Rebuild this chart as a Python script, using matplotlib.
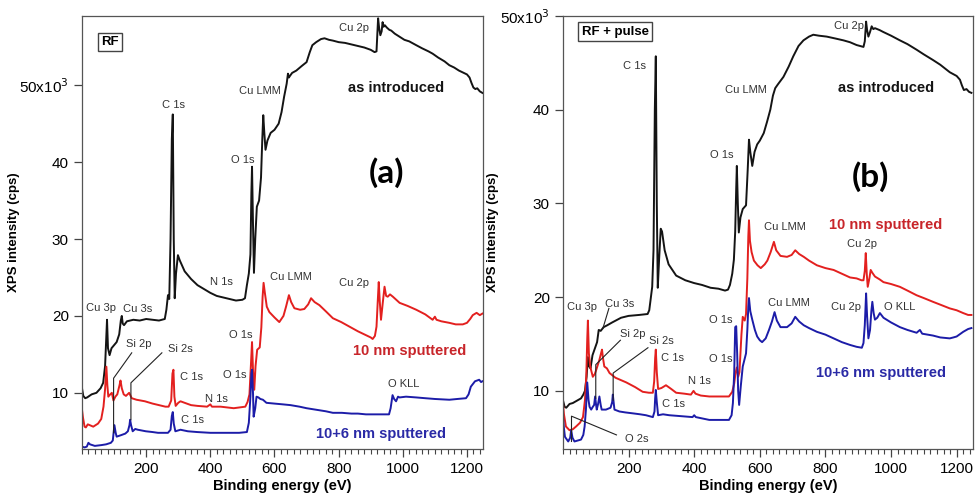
import matplotlib
matplotlib.use("Agg")
import matplotlib.pyplot as plt
from matplotlib.ticker import MultipleLocator, FuncFormatter

plt.rcParams['font.family'] = ['Liberation Sans', 'DejaVu Sans']

# ---- panel (a): RF ----  (energies in eV, intensities in 10^3 cps)
a_black_E = [0, 4, 10, 16, 30, 45, 58, 66, 72, 76, 78, 81, 86, 92, 100, 108, 116, 121, 124, 127, 131, 140, 160, 180,
             200, 220, 240, 258, 263, 268, 272, 276, 280, 283, 286, 289, 293, 299, 305, 320, 340, 360, 380, 400, 420,
             440, 460, 480, 500, 508, 514, 520, 525, 528, 530, 533, 536, 540, 545, 552, 558, 562, 565, 568, 572, 578,
             588, 600, 613, 622, 630, 638, 642, 645, 648, 655, 668, 685, 700, 710, 718, 730, 745, 756, 770, 782, 800,
             820, 840, 860, 880, 900, 912, 918, 921, 923, 926, 930, 934, 937, 940, 944, 950, 958, 964, 975, 990, 1005,
             1020, 1042, 1060, 1080, 1093, 1110, 1130, 1145, 1160, 1175, 1190, 1200, 1208, 1214, 1220, 1226, 1232,
             1240, 1248]
a_black_I = [10.6, 9.6, 9.3, 9.4, 9.8, 10.0, 10.6, 11.3, 13.5, 17.5, 19.5, 15.8, 14.9, 15.8, 16.2, 16.6, 17.6, 19.4,
             20.0, 19.0, 18.8, 19.3, 19.5, 19.4, 19.6, 19.5, 19.4, 19.6, 20.8, 22.7, 22.2, 30.0, 43.0, 46.2, 30.0, 22.3,
             25.5, 27.9, 27.2, 25.8, 24.8, 24.0, 23.5, 23.0, 22.6, 22.4, 22.2, 22.0, 22.1, 22.3, 24.0, 25.5, 28.0, 36.0,
             39.4, 32.0, 25.6, 30.0, 34.2, 35.0, 38.0, 43.0, 46.1, 44.0, 41.6, 42.8, 43.8, 44.2, 45.0, 46.5, 48.5, 50.2,
             51.5, 51.0, 51.2, 51.6, 51.9, 52.5, 53.0, 54.3, 55.2, 55.6, 56.0, 56.1, 55.9, 55.8, 55.6, 55.5, 55.3, 55.1,
             54.9, 54.6, 54.3, 54.4, 57.0, 58.7, 57.5, 56.5, 57.0, 58.2, 57.6, 57.8, 57.5, 57.2, 57.1, 56.7, 56.3, 55.9,
             55.7, 55.2, 54.8, 54.4, 54.1, 53.6, 53.1, 52.6, 52.3, 51.9, 51.6, 51.4, 51.0, 50.3, 49.7, 49.5, 49.6, 49.2,
             49.0]

a_red_E = [0, 3, 8, 12, 18, 24, 35, 50, 60, 67, 72, 76, 79, 82, 88, 93, 98, 104, 110, 117, 120, 124, 130, 137, 147,
           155, 170, 196, 220, 240, 260, 270, 278, 282, 285, 288, 292, 300, 307, 320, 340, 360, 390, 400, 405, 432, 473,
           509, 516, 522, 527, 530, 533, 537, 541, 546, 554, 559, 563, 566, 570, 576, 584, 600, 615, 628, 636, 645, 652,
           662, 680, 693, 705, 714, 725, 740, 760, 782, 808, 834, 860, 885, 900, 906, 913, 918, 922, 925, 928, 932, 937,
           943, 948, 953, 960, 969, 990, 1015, 1042, 1070, 1093, 1100, 1105, 1120, 1145, 1165, 1187, 1200, 1210, 1218,
           1230, 1240, 1248]
a_red_I = [7.8, 6.8, 5.6, 5.5, 5.9, 5.8, 5.6, 6.0, 6.6, 8.2, 10.5, 13.4, 11.0, 9.5, 9.8, 10.0, 9.0, 9.5, 9.8, 11.0,
           11.6, 10.6, 9.8, 9.6, 10.0, 9.3, 9.1, 8.9, 8.6, 8.4, 8.2, 8.2, 9.0, 12.5, 13.0, 9.5, 8.3, 8.7, 8.9, 8.7, 8.4,
           8.3, 8.2, 8.5, 8.2, 8.2, 8.0, 8.2, 8.8, 9.8, 14.0, 16.6, 13.0, 10.4, 13.5, 15.6, 15.9, 18.5, 22.5, 24.3,
           23.0, 21.2, 20.5, 19.8, 19.2, 20.0, 21.2, 22.7, 21.8, 21.0, 20.8, 20.9, 21.5, 22.3, 21.8, 21.4, 20.6, 19.7,
           19.2, 18.6, 18.0, 17.5, 17.2, 17.0, 17.4, 18.6, 22.0, 24.4, 22.0, 19.5, 21.5, 23.8, 22.6, 22.5, 22.8, 22.5,
           21.7, 21.3, 20.8, 20.2, 19.5, 19.9, 19.5, 19.3, 19.1, 18.9, 18.9, 19.1, 19.6, 20.1, 20.4, 20.1, 20.3]

a_blue_E = [0, 8, 15, 20, 25, 40, 60, 75, 90, 96, 101, 105, 108, 115, 122, 135, 143, 148, 150, 153, 158, 166, 174,
            199, 220, 237, 268, 276, 280, 283, 286, 291, 307, 330, 359, 400, 450, 490, 514, 520, 525, 528, 530, 533,
            535, 540, 544, 550, 556, 564, 575, 600, 626, 650, 678, 700, 730, 760, 782, 810, 840, 860, 885, 920, 957,
            962, 968, 973, 979, 985, 990, 1010, 1042, 1070, 1100, 1145, 1170, 1197, 1205, 1212, 1225, 1238, 1244, 1248]
a_blue_I = [3.0, 2.9, 3.0, 3.5, 3.3, 3.1, 3.2, 3.3, 3.5, 3.8, 5.8, 4.8, 4.3, 4.4, 4.5, 4.7, 5.0, 5.8, 6.5, 5.8, 5.0,
            5.3, 5.2, 5.0, 4.9, 4.8, 4.8, 5.2, 7.0, 7.5, 6.0, 5.0, 5.2, 5.0, 4.9, 4.8, 4.8, 4.8, 4.9, 6.1, 9.5, 12.5,
            13.0, 10.0, 6.9, 8.0, 9.5, 9.4, 9.2, 9.1, 8.7, 8.6, 8.5, 8.4, 8.2, 8.0, 7.8, 7.6, 7.4, 7.4, 7.3, 7.3, 7.2,
            7.2, 7.2, 8.0, 9.7, 9.2, 8.9, 9.5, 9.4, 9.5, 9.4, 9.3, 9.2, 9.1, 9.2, 9.3, 9.8, 10.8, 11.5, 11.7, 11.4,
            11.5]

# ---- panel (b): RF + pulse ----
b_black_E = [0, 5, 10, 20, 30, 45, 55, 62, 67, 72, 76, 80, 84, 90, 98, 104, 109, 115, 124, 135, 150, 177, 200, 232,
             258, 263, 267, 272, 276, 280, 283, 286, 289, 293, 298, 302, 310, 322, 345, 373, 400, 424, 450, 474, 494,
             503, 509, 516, 521, 525, 528, 530, 533, 536, 541, 548, 558, 563, 567, 571, 577, 584, 592, 600, 612, 622,
             632, 640, 647, 655, 672, 688, 702, 718, 733, 750, 763, 780, 804, 830, 855, 875, 895, 916, 920, 924, 927,
             931, 936, 941, 946, 951, 965, 976, 1000, 1027, 1050, 1078, 1100, 1128, 1150, 1179, 1200, 1210, 1216, 1222,
             1230, 1238, 1245]
b_black_I = [9.0, 8.3, 8.2, 8.6, 8.7, 9.0, 9.2, 9.6, 10.0, 11.5, 13.6, 12.6, 12.4, 13.8, 14.6, 15.2, 16.5, 16.4,
             16.8, 17.0, 17.3, 17.8, 18.0, 18.1, 18.2, 18.6, 19.7, 21.1, 25.0, 40.0, 45.7, 30.0, 21.0, 24.0, 27.3, 27.0,
             25.0, 23.5, 22.3, 21.8, 21.5, 21.3, 21.0, 20.9, 20.7, 20.8, 21.3, 22.5, 24.0, 27.0, 31.5, 34.0, 30.0, 26.9,
             28.5, 29.4, 29.8, 33.5, 36.8, 35.5, 34.0, 35.5, 36.3, 36.7, 37.5, 38.7, 40.0, 41.5, 42.3, 42.7, 43.5, 44.6,
             45.7, 46.8, 47.4, 47.8, 48.0, 47.9, 47.8, 47.6, 47.4, 47.2, 46.9, 46.7, 47.3, 49.4, 48.5, 47.8, 48.3, 48.9,
             48.6, 48.7, 48.5, 48.3, 47.9, 47.4, 47.0, 46.4, 45.9, 45.3, 44.8, 44.0, 43.6, 43.2, 42.6, 42.1, 42.2, 41.9,
             41.8]

b_red_E = [0, 3, 9, 20, 30, 40, 52, 61, 67, 71, 74, 76, 79, 83, 91, 97, 101, 111, 116, 119, 122, 126, 134, 142, 160,
           193, 220, 243, 262, 274, 278, 281, 283, 286, 290, 300, 314, 330, 345, 370, 390, 398, 404, 420, 446, 480, 506,
           516, 522, 526, 530, 534, 538, 544, 548, 554, 558, 562, 565, 567, 570, 575, 582, 593, 603, 615, 623, 633, 643,
           650, 663, 683, 697, 708, 720, 734, 750, 774, 800, 825, 850, 875, 895, 910, 916, 920, 923, 926, 929, 934, 938,
           943, 951, 965, 977, 1000, 1027, 1050, 1078, 1100, 1128, 1150, 1179, 1200, 1220, 1235, 1245]
b_red_I = [8.7, 7.5, 6.2, 5.8, 5.9, 6.2, 6.6, 7.2, 9.0, 11.5, 15.5, 17.5, 14.0, 12.6, 11.5, 11.8, 12.2, 13.3, 14.0,
           14.4, 13.5, 12.6, 12.4, 11.9, 11.4, 10.9, 10.4, 9.9, 9.8, 9.8, 11.0, 13.5, 14.4, 12.0, 10.2, 10.3, 10.6,
           10.2, 9.8, 9.7, 9.6, 10.0, 9.7, 9.5, 9.4, 9.4, 9.4, 9.9, 10.8, 11.9, 12.5, 11.5, 12.0, 16.0, 17.9, 17.5,
           18.2, 22.0, 26.5, 28.2, 26.0, 24.8, 23.9, 23.4, 23.1, 23.5, 23.9, 24.8, 25.9, 25.0, 24.4, 24.3, 24.5, 25.0,
           24.6, 24.3, 23.9, 23.4, 23.1, 22.9, 22.5, 22.1, 22.0, 21.8, 21.8, 22.8, 24.7, 22.5, 21.1, 22.0, 22.9, 22.6,
           22.2, 21.9, 21.6, 21.4, 21.1, 20.7, 20.2, 19.9, 19.5, 19.2, 18.8, 18.6, 18.3, 18.1, 18.1]

b_blue_E = [0, 3, 6, 16, 22, 25, 29, 35, 45, 55, 62, 66, 70, 74, 78, 81, 86, 91, 95, 98, 101, 103, 107, 111, 115,
            118, 131, 145, 150, 152, 155, 157, 172, 190, 213, 235, 253, 274, 279, 281, 283, 286, 290, 305, 324, 360,
            395, 400, 405, 446, 480, 506, 514, 518, 522, 525, 528, 531, 534, 537, 542, 548, 558, 562, 565, 567, 571,
            577, 585, 592, 600, 607, 618, 628, 637, 645, 652, 663, 683, 697, 708, 720, 734, 750, 774, 800, 825, 850,
            875, 895, 911, 916, 920, 924, 927, 931, 936, 940, 943, 947, 951, 958, 966, 977, 1000, 1027, 1050, 1078,
            1088, 1095, 1128, 1150, 1179, 1190, 1200, 1220, 1235, 1245]
b_blue_I = [7.2, 6.0, 5.1, 4.6, 5.0, 5.8, 5.0, 4.6, 4.7, 4.8, 5.3, 6.2, 8.0, 10.9, 9.0, 8.3, 8.0, 8.3, 8.5, 9.4, 8.5,
            8.0, 8.6, 9.4, 8.5, 8.0, 8.0, 8.2, 8.8, 9.6, 8.6, 8.0, 7.8, 7.7, 7.6, 7.5, 7.4, 7.2, 7.8, 9.2, 10.1, 8.8,
            7.4, 7.5, 7.4, 7.3, 7.2, 7.4, 7.2, 6.9, 6.9, 6.9, 7.4, 8.7, 12.0, 16.8, 16.9, 14.0, 10.0, 8.5, 10.5, 12.6,
            14.0, 16.5, 19.0, 19.9, 18.5, 17.6, 16.5, 15.8, 15.4, 15.2, 15.6, 16.5, 17.4, 18.4, 17.5, 16.8, 16.8, 17.2,
            17.9, 17.4, 17.0, 16.7, 16.3, 16.0, 15.6, 15.2, 14.9, 14.7, 14.6, 15.1, 17.0, 20.4, 18.0, 15.6, 16.5, 18.5,
            19.5, 18.3, 17.6, 17.8, 18.3, 17.8, 17.3, 16.8, 16.5, 16.2, 16.5, 16.1, 15.9, 15.7, 15.6, 15.7, 15.8, 16.3,
            16.6, 16.7]

# peak labels: (text, energy, intensity)
a_labels = [("Cu 2p", 849, 57.5), ("Cu LMM", 556, 49.2), ("C 1s", 285, 47.4), ("O 1s", 502, 40.3),
            ("Cu 3p", 60, 21.0), ("Cu 3s", 172, 20.9), ("N 1s", 435, 24.4), ("Cu LMM", 652, 25.0),
            ("Cu 2p", 849, 24.3), ("Si 2p", 176, 16.4), ("Si 2s", 306, 15.7), ("O 1s", 494, 17.5),
            ("C 1s", 342, 12.0), ("O 1s", 476, 12.3), ("N 1s", 420, 9.2), ("O KLL", 1004, 11.2), ("C 1s", 345, 6.5)]
b_labels = [("C 1s", 219, 44.7), ("Cu 2p", 872, 48.9), ("Cu LMM", 558, 42.1), ("O 1s", 484, 35.2),
            ("Cu LMM", 678, 27.5), ("Cu 2p", 913, 25.7), ("Cu 3p", 57, 18.9), ("Cu 3s", 173, 19.3),
            ("Si 2p", 214, 16.1), ("Si 2s", 300, 15.3), ("C 1s", 333, 13.5), ("O 1s", 482, 17.6),
            ("O 1s", 480, 13.4), ("N 1s", 416, 11.1), ("C 1s", 338, 8.6), ("O 2s", 224, 4.9),
            ("Cu LMM", 690, 19.4), ("Cu 2p", 862, 18.9), ("O KLL", 1027, 18.9)]

# leader lines (energies, intensities)
a_leaders = [([155, 98.5, 98.5], [15.2, 11.9, 4.8]), ([249, 152.5, 152.5], [15.2, 11.3, 6.5])]
b_leaders = [([140, 122], [18.8, 16.7]), ([175, 100, 100], [15.4, 12.8, 9.2]),
             ([259, 153, 153], [14.6, 11.9, 9.0]), ([163, 26, 26], [5.3, 7.3, 4.6])]

BLACK, RED, BLUE = '#141414', '#e3201f', '#1c1ca8'
RED_TXT, BLUE_TXT = '#c8252a', '#2a2aa6'


def ytick_fmt(v, pos):
    if abs(v - 50) < 1e-6:
        return '50x10$^3$'
    return '%d' % v


def draw_panel(ax, spectra, labels, leaders, box_text, panel, ylim, series_txt):
    for E, I, c in spectra:
        ax.plot(E, I, color=c, lw=1.4)
    for txt, e, v in labels:
        ax.text(e, v, txt, fontsize=8, color='#333333', ha='center', va='center')
    for xs, ys in leaders:
        ax.plot(xs, ys, color='#222222', lw=0.8)
    for txt, e, v, c in series_txt:
        ax.text(e, v, txt, fontsize=10.5, fontweight='bold', color=c, ha='center', va='center')
    ax.text(e_panel[panel][0], e_panel[panel][1], '(%s)' % panel, fontsize=24, fontweight='bold',
            family='Lato', ha='center', va='center')
    ax.text(box_text[1], box_text[2], box_text[0], transform=ax.transAxes, fontsize=9.5, fontweight='bold',
            ha='center', va='center',
            bbox=dict(boxstyle='square,pad=0.25', fc='white', ec='#444444', lw=1.0))
    ax.set_xlim(0, 1250)
    ax.set_ylim(*ylim)
    ax.xaxis.set_minor_locator(MultipleLocator(20))
    ax.set_xticks([200, 400, 600, 800, 1000, 1200])
    ax.set_yticks([10, 20, 30, 40, 50])
    ax.yaxis.set_major_formatter(FuncFormatter(ytick_fmt))
    ax.tick_params(axis='both', which='major', direction='out', length=6, width=0.9, labelsize=11,
                   color='#444444')
    ax.tick_params(axis='x', which='minor', direction='out', length=3.5, width=0.8, color='#444444')
    ax.tick_params(axis='y', which='minor', length=0)
    for s in ax.spines.values():
        s.set_color('#555555')
        s.set_linewidth(0.9)
    ax.set_xlabel('Binding energy (eV)', fontsize=10.5, fontweight='bold', labelpad=2)
    ax.set_ylabel('XPS intensity (cps)', fontsize=9.5, fontweight='bold')
    ax.yaxis.set_label_coords(-0.155, 0.5)


e_panel = {'a': (948, 38.6), 'b': (938, 32.9)}

fig = plt.figure(figsize=(9.75, 4.95), dpi=100)
ax1 = fig.add_axes([0.0841, 0.093, 0.4113, 0.8747])
ax2 = fig.add_axes([0.5774, 0.093, 0.4206, 0.8747])

draw_panel(ax1, [(a_black_E, a_black_I, BLACK), (a_red_E, a_red_I, RED), (a_blue_E, a_blue_I, BLUE)],
           a_labels, a_leaders, ('RF', 0.07, 0.94), 'a', (2.7, 59),
           [('as introduced', 979, 49.6, BLACK), ('10 nm sputtered', 1020, 15.5, RED_TXT),
            ('10+6 nm sputtered', 932, 4.7, BLUE_TXT)])
draw_panel(ax2, [(b_black_E, b_black_I, BLACK), (b_red_E, b_red_I, RED), (b_blue_E, b_blue_I, BLUE)],
           b_labels, b_leaders, ('RF + pulse', 0.127, 0.964), 'b', (3.8, 50),
           [('as introduced', 984, 42.3, BLACK), ('10 nm sputtered', 984, 27.7, RED_TXT),
            ('10+6 nm sputtered', 968, 11.9, BLUE_TXT)])

fig.savefig('out.png', dpi=100)
